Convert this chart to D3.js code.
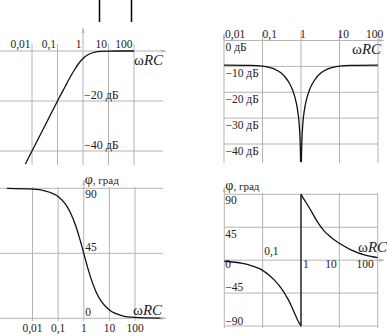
<!DOCTYPE html>
<html>
<head>
<meta charset="utf-8">
<script src="https://cdn.jsdelivr.net/npm/d3@7"></script>
<style>
  html, body { margin: 0; padding: 0; background: #fff; }
  svg { display: block; }
  text { font-family: "Liberation Serif", "DejaVu Serif", serif; fill: #222; }
</style>
</head>
<body>
<div id="chart"></div>
<script>
// frequency axis (ωRC), shared by the four panels
const freqTicks = [0.01, 0.1, 1, 10, 100];
const freqLabels = ["0,01", "0,1", "1", "10", "100"];

// top-left: high-pass gain, dB
const hpGainTicks = [0, -20, -40];
const hpGainLabels = ["", "\u221220 дБ", "\u221240 дБ"];
const hpGainW  = [0.0055, 0.01, 0.02, 0.03, 0.05, 0.1, 0.2, 0.3, 0.5, 0.7, 1, 1.5, 2, 3, 5, 10, 30, 100];
const hpGainDb = [-45.2, -40, -34, -30.5, -26, -20, -14.2, -10.8, -7, -4.8, -3, -1.6, -1, -0.46, -0.17, -0.04, 0, 0];

// top-right: notch gain, dB
const notchGainTicks = [0, -10, -20, -30, -40];
const notchGainLabels = ["0 дБ", "\u221210 дБ", "\u221220 дБ", "\u221230 дБ", "\u221240 дБ"];
const notchGainW  = [0.01, 0.05, 0.1, 0.2, 0.3, 0.4, 0.5, 0.6, 0.7, 0.8, 0.9, 0.95, 0.98, 1, 1.02, 1.053, 1.11, 1.25, 1.43, 1.67, 2, 2.5, 3.33, 5, 10, 20, 100];
const notchGainDb = [-9.5, -9.6, -9.9, -11, -12.5, -14.4, -16.5, -19, -22.1, -26.1, -32.6, -38.9, -47, -52, -47, -38.9, -32.6, -26.1, -22.1, -19, -16.5, -14.4, -12.5, -11, -9.9, -9.6, -9.5];

// bottom-left: high-pass phase, degrees
const hpPhaseTicks = [90, 45, 0];
const hpPhaseLabels = ["90", "45", "0"];
const hpPhaseW   = [0.001, 0.01, 0.03, 0.1, 0.2, 0.3, 0.5, 0.7, 1, 1.5, 2, 3, 5, 10, 30, 100, 1000];
const hpPhaseDeg = [89.9, 89.4, 88.3, 84.3, 78.7, 73.3, 63.4, 55, 45, 33.7, 26.6, 18.4, 11.3, 5.7, 1.9, 0.6, 0.1];

// bottom-right: notch phase, degrees (two branches, jump at ωRC = 1)
const notchPhaseTicks = [90, 45, 0, -45, -90];
const notchPhaseLabels = ["90", "45", "0", "\u221245", "\u221290"];
const notchPhaseLowW    = [0.01, 0.03, 0.05, 0.1, 0.2, 0.3, 0.4, 0.5, 0.6, 0.7, 0.8, 0.9, 1];
const notchPhaseLowDeg  = [-1.5, -4.5, -7.5, -14, -27, -38, -48, -57, -66, -74, -81, -86, -90];
const notchPhaseHighW   = [1, 1.2, 1.5, 2, 2.5, 3, 4, 5, 7, 10, 20, 50, 100];
const notchPhaseHighDeg = [90, 83, 75, 64, 55, 48.5, 40, 35, 28.5, 23, 14, 6.5, 3.5];

const width = 387, height = 336;
const grid = "#b4b4b4", ink = "#111";

const svg = d3.select("#chart").append("svg")
  .attr("width", width).attr("height", height);

const defs = svg.append("defs");

function arrowUp(g, x, y) {
  g.append("path")
    .attr("d", `M${x - 1.5},${y + 5}L${x},${y}L${x + 1.5},${y + 5}Z`)
    .attr("fill", grid);
}
function arrowRight(g, x, y) {
  g.append("path")
    .attr("d", `M${x - 5},${y - 1.5}L${x},${y}L${x - 5},${y + 1.5}Z`)
    .attr("fill", grid);
}
function hline(g, y, x1, x2) {
  g.append("line").attr("x1", x1).attr("x2", x2).attr("y1", y).attr("y2", y)
    .attr("stroke", grid).attr("stroke-width", 1);
}
function vline(g, x, y1, y2) {
  g.append("line").attr("x1", x).attr("x2", x).attr("y1", y1).attr("y2", y2)
    .attr("stroke", grid).attr("stroke-width", 1);
}
function wrcLabel(g, x, y) {
  const t = g.append("text").attr("x", x).attr("y", y).style("font-size", "15px");
  t.append("tspan").text("\u03c9");
  t.append("tspan").style("font-style", "italic").text("RC");
}
function phiLabel(g, x, y) {
  const t = g.append("text").attr("x", x).attr("y", y).style("font-size", "11px");
  t.append("tspan").style("font-size", "14px").text("\u03c6");
  t.append("tspan").text(", град");
}
function curve(g, xs, ys, x, y, clipId) {
  const line = d3.line()
    .x(d => x(d[0])).y(d => y(d[1]))
    .curve(d3.curveMonotoneX);
  const p = g.append("path")
    .datum(xs.map((w, i) => [w, ys[i]]))
    .attr("d", line)
    .attr("fill", "none").attr("stroke", ink).attr("stroke-width", 1.3);
  if (clipId) p.attr("clip-path", `url(#${clipId})`);
  return p;
}

// stray marks at the very top of the picture
[99.5, 131.5].forEach(x => {
  svg.append("line").attr("x1", x).attr("x2", x).attr("y1", 0).attr("y2", 22)
    .attr("stroke", "#000").attr("stroke-width", 1.5);
});

// ---------- top-left: high-pass gain ----------
{
  const g = svg.append("g");
  const x = d3.scaleLog().domain([0.01, 100]).range([32, 134]);
  const y = d3.scaleLinear().domain([0, -40]).range([51, 151]);

  hpGainTicks.forEach(t => hline(g, y(t), 0, t === 0 ? 166 : 163));
  arrowRight(g, 166, y(0));
  freqTicks.forEach(t => vline(g, x(t), t === 1 ? 28 : 44, 165));
  arrowUp(g, x(1), 28);

  g.selectAll(".fl").data(freqTicks).enter().append("text")
    .attr("x", d => x(d) - 1.5).attr("y", y(0) - 3)
    .attr("text-anchor", "end").style("font-size", "11.5px")
    .text((d, i) => freqLabels[i]);
  g.selectAll(".gl").data(hpGainTicks).enter().append("text")
    .attr("x", x(1) + 1).attr("y", d => y(d) - 2.5)
    .style("font-size", "12px")
    .text((d, i) => hpGainLabels[i]);
  wrcLabel(g, 134, 65);

  curve(g, hpGainW, hpGainDb, x, y);
}

// ---------- top-right: notch gain ----------
{
  const g = svg.append("g");
  const x = d3.scaleLog().domain([0.01, 100]).range([224, 378]);
  const y = d3.scaleLinear().domain([0, -40]).range([40.5, 144]);

  notchGainTicks.forEach(t => hline(g, y(t), x(0.01), t === 0 ? 384 : x(100)));
  arrowRight(g, 384, y(0));
  freqTicks.forEach(t => vline(g, x(t), t === 0.01 ? 34 : 32, 163));
  arrowUp(g, x(0.01), 34);

  const dx = [1, 0, -1, -2, -12];
  g.selectAll(".fl").data(freqTicks).enter().append("text")
    .attr("x", (d, i) => x(d) + dx[i]).attr("y", 37.5)
    .style("font-size", "11.5px")
    .text((d, i) => freqLabels[i]);
  g.selectAll(".gl").data(notchGainTicks).enter().append("text")
    .attr("x", x(0.01) + 1.5).attr("y", d => y(d) + 10.5)
    .style("font-size", "11.5px")
    .text((d, i) => notchGainLabels[i]);
  wrcLabel(g, 352, 54);

  defs.append("clipPath").attr("id", "clipNotch")
    .append("rect").attr("x", 220).attr("y", 30).attr("width", 165).attr("height", 132);
  curve(g, notchGainW, notchGainDb, x, y, "clipNotch");
}

// ---------- bottom-left: high-pass phase ----------
{
  const g = svg.append("g");
  const x = d3.scaleLog().domain([0.01, 100]).range([32.5, 135]);
  const y = d3.scaleLinear().domain([0, 90]).range([318.3, 188.3]);

  hpPhaseTicks.forEach(t => hline(g, y(t), 0, t === 0 ? 166 : 163));
  arrowRight(g, 166, y(0));
  freqTicks.forEach(t => vline(g, x(t), t === 1 ? 180 : 187, 321));
  arrowUp(g, x(1), 180);

  g.selectAll(".fl").data(freqTicks).enter().append("text")
    .attr("x", d => x(d)).attr("y", 332)
    .attr("text-anchor", "middle").style("font-size", "11.5px")
    .text((d, i) => freqLabels[i]);
  const dy = [9.5, -2, -2.5];
  g.selectAll(".pl").data(hpPhaseTicks).enter().append("text")
    .attr("x", x(1) + 1.5).attr("y", (d, i) => y(d) + dy[i])
    .style("font-size", "11.5px")
    .text((d, i) => hpPhaseLabels[i]);
  phiLabel(g, x(1) + 1, 184);
  wrcLabel(g, 133, 315);

  defs.append("clipPath").attr("id", "clipHp")
    .append("rect").attr("x", 4).attr("y", 180).attr("width", 160).attr("height", 150);
  curve(g, hpPhaseW, hpPhaseDeg, x, y, "clipHp");
}

// ---------- bottom-right: notch phase ----------
{
  const g = svg.append("g");
  const x = d3.scaleLog().domain([0.01, 100]).range([224.3, 377.7]);
  const y = d3.scaleLinear().domain([90, -90]).range([194.3, 326]);

  notchPhaseTicks.forEach(t => hline(g, y(t), x(0.01), t === 0 ? 384 : x(100)));
  arrowRight(g, 384, y(0));
  freqTicks.forEach(t => vline(g, x(t), t === 0.01 ? 187 : 193, 328));
  arrowUp(g, x(0.01), 187);

  // frequency labels sit on the zero line
  const fx = [
    { i: 1, x: x(0.1) + 1.5, y: y(0) - 5.5, a: "start" },
    { i: 2, x: x(1) + 2, y: y(0) + 8, a: "start" },
    { i: 3, x: x(10) - 2.5, y: y(0) + 8, a: "end" },
    { i: 4, x: x(100) - 4, y: y(0) + 8, a: "end" }
  ];
  g.selectAll(".fl").data(fx).enter().append("text")
    .attr("x", d => d.x).attr("y", d => d.y)
    .attr("text-anchor", d => d.a).style("font-size", "11.5px")
    .text(d => freqLabels[d.i]);
  const dy = [9.5, 10.5, 8, -2, -1.5];
  g.selectAll(".pl").data(notchPhaseTicks).enter().append("text")
    .attr("x", x(0.01) + 1).attr("y", (d, i) => y(d) + dy[i])
    .style("font-size", "11.5px")
    .text((d, i) => notchPhaseLabels[i]);
  phiLabel(g, x(0.01) + 1, 190);
  wrcLabel(g, 358, 252);

  curve(g, notchPhaseLowW, notchPhaseLowDeg, x, y);
  // jump at ωRC = 1
  g.append("line")
    .attr("x1", x(1)).attr("x2", x(1))
    .attr("y1", y(notchPhaseLowDeg[notchPhaseLowDeg.length - 1]))
    .attr("y2", y(notchPhaseHighDeg[0]))
    .attr("stroke", ink).attr("stroke-width", 1.3);
  curve(g, notchPhaseHighW, notchPhaseHighDeg, x, y);
}
</script>
</body>
</html>
